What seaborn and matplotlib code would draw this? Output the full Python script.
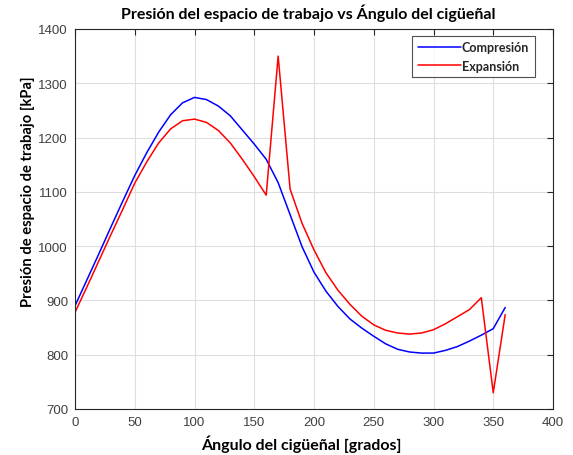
import numpy as np
import pandas as pd
import matplotlib
matplotlib.use("Agg")
import matplotlib.pyplot as plt
import seaborn as sns

# Crank angle in degrees and working-space pressure in kPa
angulo = list(range(0, 361, 10))
compresion = [890, 938, 986, 1035, 1083, 1130, 1172, 1210, 1242, 1264,
              1274, 1270, 1258, 1240, 1214, 1188, 1160, 1117, 1058, 999,
              952, 917, 889, 866, 849, 834, 820, 810, 805, 803,
              803, 808, 815, 825, 836, 848, 887]
expansion = [878, 925, 973, 1021, 1068, 1116, 1155, 1190, 1216, 1231,
             1234, 1228, 1213, 1190, 1160, 1128, 1094, 1350, 1105, 1042,
             993, 951, 919, 893, 871, 855, 845, 840, 838, 840,
             846, 857, 870, 883, 905, 730, 874]

series_names = ["Compresión", "Expansión"]
series_colors = ["#0000ff", "#ff0000"]

df = pd.concat([
    pd.DataFrame({"angulo": angulo, "presion": compresion, "serie": series_names[0]}),
    pd.DataFrame({"angulo": angulo, "presion": expansion, "serie": series_names[1]}),
])

sns.set_theme(style="white")
plt.rcParams["font.family"] = ["Liberation Sans", "DejaVu Sans"]

fig = plt.figure(figsize=(5.73, 4.56), dpi=100)
ax = fig.add_axes([75 / 573, 1 - 410 / 456, 478 / 573, 380 / 456])

sns.lineplot(data=df, x="angulo", y="presion", hue="serie",
             palette=dict(zip(series_names, series_colors)),
             linewidth=1.1, ax=ax, sort=False, estimator=None)

ax.set_xlim(0, 400)
ax.set_ylim(700, 1400)
ax.set_xticks(range(0, 401, 50))
ax.set_yticks(range(700, 1401, 100))

ax.grid(True, color="#dedede", linewidth=0.8)
ax.set_axisbelow(True)
for side in ["left", "right", "top", "bottom"]:
    ax.spines[side].set_visible(True)
    ax.spines[side].set_color("#262626")
    ax.spines[side].set_linewidth(0.8)

ax.tick_params(axis="both", which="both", direction="in", length=4,
               width=0.8, color="#262626", top=True, right=True,
               labelsize=9.5, labelcolor="#404040", pad=5)

label_font = dict(family=["Lato", "DejaVu Sans"], weight="bold", color="#000000")
ax.set_title("Presión del espacio de trabajo vs Ángulo del cigüeñal",
             fontsize=11.5, pad=8, x=0.488, **label_font)
ax.set_xlabel("Ángulo del cigüeñal [grados]", fontsize=11.5, labelpad=4, **label_font)
ax.xaxis.set_label_coords(0.474, -0.068)
ax.set_ylabel("Presión de espacio de trabajo [kPa]", fontsize=10.6, labelpad=6, **label_font)
ax.yaxis.set_label_coords(-0.083, 0.575)

leg = ax.legend(loc="upper right", bbox_to_anchor=(0.962, 0.982),
                borderaxespad=0.0, frameon=True, fancybox=False,
                handlelength=3.4, handletextpad=0.1, borderpad=0.45,
                labelspacing=0.5,
                prop=dict(family=["Lato", "DejaVu Sans"], weight="bold", size=9))
leg.get_frame().set_edgecolor("#262626")
leg.get_frame().set_linewidth(0.8)
leg.set_title(None)

fig.savefig("out.png", dpi=100, facecolor="white")
